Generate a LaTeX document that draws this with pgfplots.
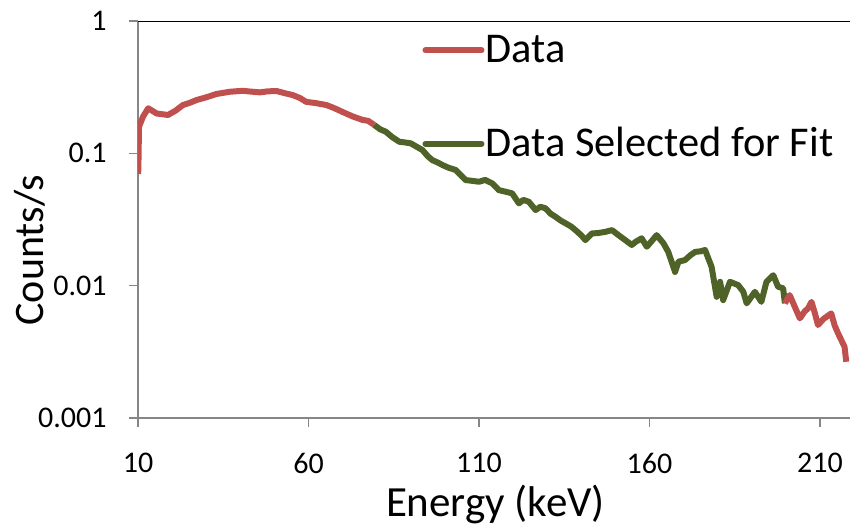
\documentclass[border=0pt]{standalone}
\usepackage{fontspec}
\setmainfont{Carlito}
\usepackage{pgfplots}
\pgfplotsset{compat=1.18}
\definecolor{dred}{RGB}{192,80,77}
\definecolor{dgreen}{RGB}{79,98,40}
\definecolor{axgray}{RGB}{134,134,134}
\begin{document}
\begin{tikzpicture}
\useasboundingbox (-69pt,-53.5pt) rectangle (356pt,209pt);
\begin{axis}[
  at={(0,0)}, anchor=south west,
  scale only axis, width=356pt, height=198.5pt,
  xmin=10, xmax=218.8, ymode=log, ymin=0.001, ymax=1,
  axis x line*=bottom, axis y line*=left,
  axis line style={axgray, line width=1.4pt},
  xtick={10,60,110,160,210}, xticklabels={10,60,110,160,210},
  ytick={0.001,0.01,0.1,1}, yticklabels={0.001,0.01,0.1,1},
  yminorticks=false, xminorticks=false,
  tick align=outside, major tick length=4.5pt,
  tick style={axgray, line width=0.8pt},
  xticklabel style={font=\fontsize{15}{18}\selectfont, inner sep=0pt, anchor=north, yshift=-13pt},
  yticklabel style={font=\fontsize{15}{18}\selectfont, inner sep=0pt, anchor=east, xshift=-11pt},
  xlabel={Energy (keV)}, ylabel={Counts/s},
  xlabel style={at={(axis description cs:0.502,-0.249)}, anchor=base, font=\fontsize{21.5}{25}\selectfont},
  ylabel style={at={(axis description cs:-0.1517,0.423)}, anchor=center, font=\fontsize{21}{25}\selectfont},
  legend style={draw=none, fill=none, at={(rel axis cs:0.399,0.965)}, anchor=north west,
    font=\fontsize{21.2}{25}\selectfont, row sep=31pt, inner sep=0pt, column sep=0.5pt,
    nodes={inner sep=0pt}},
  legend cell align=left,
  legend image code/.code={\draw[#1, line cap=round] (0pt,0pt) -- (28pt,0pt);},
  every axis plot/.append style={line width=3pt, line join=round, no markers},
]
\draw[black, line width=0.75pt] (rel axis cs:0,1) -- (rel axis cs:1,1);
\addplot[dred] table {
x y
10.0 0.070
10.1 0.0748
10.3 0.159
11.5 0.19
13.0 0.219
15.5 0.200
18.8 0.195
21.0 0.210
23.2 0.232
25.0 0.240
27.2 0.253
30.0 0.265
33.0 0.281
36.9 0.292
40.7 0.297
43.0 0.293
45.7 0.289
48.0 0.294
50.6 0.296
53.0 0.285
55.3 0.276
57.5 0.262
59.3 0.245
62.0 0.240
65.2 0.232
67.5 0.220
69.9 0.206
73.0 0.190
75.8 0.179
77.5 0.176
79.3 0.164
};
\addlegendentry{Data}
\addplot[dgreen] table {
x y
79.3 0.1637
81.0 0.152
82.7 0.1456
84.5 0.133
86.6 0.1224
88.2 0.121
90.0 0.119
91.5 0.113
93.4 0.106
95.0 0.095
96.3 0.0889
98.0 0.085
99.3 0.0816
101.0 0.078
103.2 0.0748
104.5 0.069
106.1 0.0628
108.0 0.062
110.0 0.0610
111.8 0.063
113.9 0.0593
115.8 0.0528
117.5 0.0515
119.7 0.0499
121.7 0.0419
123.0 0.0445
124.6 0.0431
126.6 0.0373
128.0 0.0395
129.5 0.0384
131.0 0.0350
132.4 0.0332
134.0 0.0310
135.4 0.0296
137.0 0.0280
138.3 0.0263
140.0 0.0240
141.2 0.0221
143.1 0.0248
145.0 0.0250
147.0 0.0255
149.0 0.0263
150.9 0.0241
153.0 0.0220
154.8 0.0203
156.0 0.0215
157.7 0.0228
159.2 0.0197
160.5 0.0215
162.1 0.0241
164.1 0.0209
165.5 0.0180
167.5 0.0127
168.5 0.0152
170.4 0.0156
172.0 0.0170
173.4 0.0180
175.0 0.0182
176.3 0.0186
178.2 0.0139
179.7 0.00824
180.7 0.0107
181.6 0.00778
183.6 0.0107
186.0 0.0101
187.5 0.0090
188.5 0.00735
190.9 0.00899
192.8 0.00755
194.3 0.0107
196.3 0.0120
197.7 0.00982
199.2 0.00955
199.7 0.00735
};
\addlegendentry{Data Selected for Fit}
\addplot[dred, forget plot] table {
x y
199.7 0.00735
201.1 0.00849
202.6 0.00693
204.1 0.00566
205.5 0.00640
206.5 0.00673
207.5 0.00755
208.5 0.00620
209.4 0.00504
211.0 0.00560
213.3 0.00618
214.3 0.00500
215.3 0.00436
217.2 0.00345
217.7 0.00266
};
\end{axis}
\end{tikzpicture}
\end{document}
